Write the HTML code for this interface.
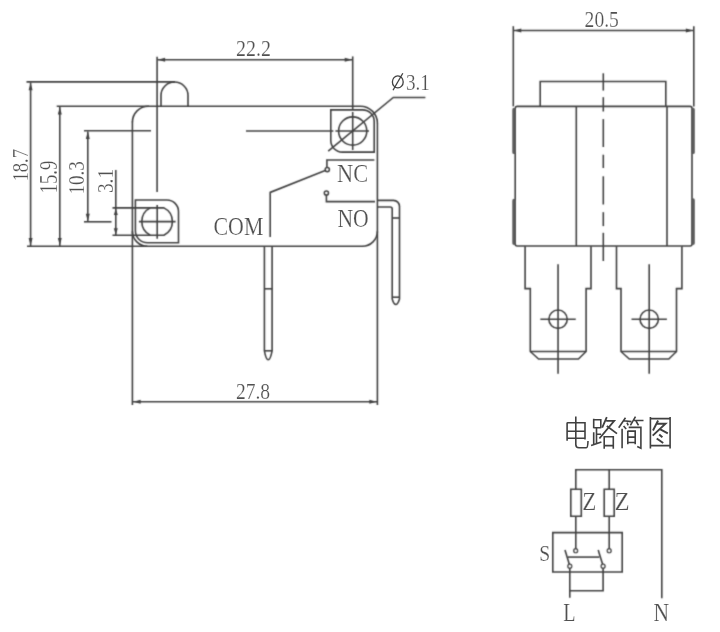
<!DOCTYPE html>
<html><head><meta charset="utf-8"><style>
html,body{margin:0;padding:0;background:#fff;width:720px;height:632px;overflow:hidden}
svg{display:block;}
text{font-family:"Liberation Serif",serif;fill:#505050;stroke:#fff;stroke-width:0.22px}
</style></head><body>
<svg width="720" height="632" viewBox="0 0 720 632" fill="none" stroke="#404040" stroke-linecap="butt">
<defs><filter id="n" x="0" y="0" width="720" height="632" filterUnits="userSpaceOnUse"><feOffset dx="0" dy="0"/></filter><filter id="b" x="0" y="0" width="720" height="632" filterUnits="userSpaceOnUse"><feConvolveMatrix order="3" kernelMatrix="1 4 1 4 16 4 1 4 1" divisor="36" edgeMode="none" preserveAlpha="false"/></filter></defs>
<rect width="720" height="632" fill="#fff" stroke="none"/>
<g filter="url(#b)">
<line x1="26.5" y1="81.9" x2="175" y2="81.9" stroke-width="1.6" />
<line x1="30.6" y1="82.5" x2="30.6" y2="246" stroke-width="1.6" />
<path d="M30.6 82.8 L28.60 90.30 L32.60 90.30Z" fill="#404040" stroke="none"/>
<path d="M30.6 245.6 L28.60 238.10 L32.60 238.10Z" fill="#404040" stroke="none"/>
<line x1="56.7" y1="106.2" x2="149" y2="106.2" stroke-width="1.6" />
<line x1="59.8" y1="107" x2="59.8" y2="246" stroke-width="1.6" />
<path d="M59.8 107 L57.80 114.50 L61.80 114.50Z" fill="#404040" stroke="none"/>
<path d="M59.8 245.6 L57.80 238.10 L61.80 238.10Z" fill="#404040" stroke="none"/>
<line x1="84" y1="130.8" x2="151" y2="130.8" stroke-width="1.6" />
<line x1="87.8" y1="131.5" x2="87.8" y2="221.5" stroke-width="1.6" />
<path d="M87.8 131.5 L85.80 139.00 L89.80 139.00Z" fill="#404040" stroke="none"/>
<path d="M87.8 221.2 L85.80 213.70 L89.80 213.70Z" fill="#404040" stroke="none"/>
<line x1="84" y1="221.8" x2="111.5" y2="221.8" stroke-width="1.6" />
<line x1="115.8" y1="170" x2="115.8" y2="235.3" stroke-width="1.6" />
<path d="M115.8 208.6 L113.80 215.10 L117.80 215.10Z" fill="#404040" stroke="none"/>
<path d="M115.8 234.8 L113.80 228.30 L117.80 228.30Z" fill="#404040" stroke="none"/>
<line x1="157.5" y1="59.7" x2="352.2" y2="59.7" stroke-width="1.6" />
<path d="M157.6 59.7 L165.10 57.70 L165.10 61.70Z" fill="#404040" stroke="none"/>
<path d="M352.2 59.7 L344.70 57.70 L344.70 61.70Z" fill="#404040" stroke="none"/>
<line x1="157.1" y1="56.7" x2="157.1" y2="192" stroke-width="1.6" />
<line x1="157.2" y1="205" x2="157.2" y2="238.8" stroke-width="1.6" />
<line x1="352.7" y1="56.4" x2="352.7" y2="109" stroke-width="1.6" />
<line x1="352.7" y1="112" x2="352.7" y2="150" stroke-width="1.6" />
<line x1="133" y1="401.7" x2="377" y2="401.7" stroke-width="1.6" />
<path d="M133.2 401.7 L140.70 399.70 L140.70 403.70Z" fill="#404040" stroke="none"/>
<path d="M376.8 401.7 L369.30 399.70 L369.30 403.70Z" fill="#404040" stroke="none"/>
<line x1="132.4" y1="121.5" x2="132.4" y2="405" stroke-width="1.6" />
<line x1="377.4" y1="123" x2="377.4" y2="405" stroke-width="1.6" />
<path d="M132.4 122.2 A16 16 0 0 1 148.4 106.2 H360.4 A17 17 0 0 1 377.4 123.2" stroke-width="1.6" />
<path d="M377.4 231.3 A15 15 0 0 1 362.4 246.3 H27" stroke-width="1.6" />
<path d="M161 106.2 V95.5 A13.5 13.5 0 0 1 188 95.5 V106.2" stroke-width="1.6" />
<path d="M330.8 109.9 H362.7 A11.5 11.5 0 0 1 374.2 121.4 V152.1 H342.3 A11.5 11.5 0 0 1 330.8 140.6 Z" stroke-width="1.6" />
<circle cx="352.7" cy="131" r="14.1" stroke-width="1.6" />
<line x1="246" y1="131" x2="333.4" y2="131" stroke-width="1.6" />
<line x1="335.4" y1="131" x2="369" y2="131" stroke-width="1.6" />
<path d="M328.2 151.1 L393.3 97.5 H425.4" stroke-width="1.6" />
<path d="M135.4 200 H167 A11.5 11.5 0 0 1 178.5 211.5 V242.8 H147.4 A12 12 0 0 1 135.4 230.8 Z" stroke-width="1.6" />
<path d="M132.4 231.3 A15 15 0 0 0 147.4 246.3" stroke-width="1.6" />
<path d="M112.5 207.9 H163.91 A15.3 15.3 0 0 1 163.91 235.3 H112.5" stroke-width="1.6" />
<path d="M150.29 207.9 A15.3 15.3 0 0 0 150.29 235.3" stroke-width="1.6" />
<line x1="138.9" y1="221.6" x2="175.6" y2="221.6" stroke-width="1.6" />
<path d="M374.4 160 H326.9 V167.4" stroke-width="1.6" />
<circle cx="327.3" cy="169.6" r="2.1" stroke-width="1.5" />
<path d="M325.2 170.6 L270.2 192.4 V237" stroke-width="1.6" />
<circle cx="326.4" cy="193" r="2.1" stroke-width="1.5" />
<path d="M326.4 195.1 V201.6 H375" stroke-width="1.6" />
<path d="M377.4 200.4 H393.5 A6 6 0 0 1 399.5 206.4 V299 Q397.8 304.5 395.8 304.5 Q393.8 304.5 392.2 299 V209 A2 2 0 0 0 390.2 207 H377.4" stroke-width="1.6" />
<line x1="392.2" y1="218" x2="399.5" y2="218" stroke-width="1.6" />
<line x1="392.2" y1="297.2" x2="399.5" y2="297.2" stroke-width="1.6" />
<path d="M264.4 246.3 V350.8 Q266 359.7 268.2 359.7 Q270.4 359.7 272.1 350.8 V246.3" stroke-width="1.6" />
<line x1="264.4" y1="288.8" x2="272.1" y2="288.8" stroke-width="1.6" />
<line x1="264.4" y1="350.8" x2="272.1" y2="350.8" stroke-width="1.6" />
<line x1="513.3" y1="26.2" x2="513.3" y2="106.4" stroke-width="1.6" />
<line x1="693.8" y1="26.2" x2="693.8" y2="106.4" stroke-width="1.6" />
<line x1="513.8" y1="30.5" x2="693.3" y2="30.5" stroke-width="1.6" />
<path d="M513.8 30.5 L521.30 28.50 L521.30 32.50Z" fill="#404040" stroke="none"/>
<path d="M693.3 30.5 L685.80 28.50 L685.80 32.50Z" fill="#404040" stroke="none"/>
<path d="M540.2 106.4 V81.5 H665.8 V106.4" stroke-width="1.6" />
<path d="M517 106.4 H690 A2 2 0 0 1 692 108.4 V244 A2 2 0 0 1 690 246 H517.2 A2 2 0 0 1 515.2 244 V108.4 A2 2 0 0 1 517 106.4 Z" stroke-width="1.6" />
<line x1="576.3" y1="106.4" x2="576.3" y2="246" stroke-width="1.6" />
<line x1="667" y1="106.4" x2="667" y2="246" stroke-width="1.6" />
<path d="M514 109.5 V152.4 M514 200.5 V243.3" stroke-width="3.4" stroke-linecap="round" stroke="#5a5a5a"/>
<path d="M693.1 109.5 V152.4 M693.1 200 V243.3" stroke-width="3.4" stroke-linecap="round" stroke="#5a5a5a"/>
<line x1="603.3" y1="73.3" x2="603.3" y2="90.6" stroke-width="1.6" />
<line x1="603.3" y1="97.2" x2="603.3" y2="111.5" stroke-width="1.6" />
<line x1="603.3" y1="119.1" x2="603.3" y2="147" stroke-width="1.6" />
<line x1="603.3" y1="154.7" x2="603.3" y2="168" stroke-width="1.6" />
<line x1="603.3" y1="176.3" x2="603.3" y2="204.5" stroke-width="1.6" />
<line x1="603.3" y1="212.2" x2="603.3" y2="226.1" stroke-width="1.6" />
<line x1="603.3" y1="232.8" x2="603.3" y2="261" stroke-width="1.6" />
<path d="M525.1 246.2 V288.6 H530.3 V351.5 L538.6 359 H578.4 L586.1 351.5 V288.6 H591 V246.2" stroke-width="1.6" />
<line x1="530.3" y1="351.5" x2="586.1" y2="351.5" stroke-width="1.6" />
<line x1="558.05" y1="264.3" x2="558.05" y2="373.8" stroke-width="1.6" />
<circle cx="558.05" cy="319.2" r="9.2" stroke-width="1.6" />
<line x1="540.3499999999999" y1="319.2" x2="575.75" y2="319.2" stroke-width="1.6" />
<path d="M616.5 246.2 V288.6 H621 V351.5 L629.3 359 H668.8 L676.5 351.5 V288.6 H681.9 V246.2" stroke-width="1.6" />
<line x1="621" y1="351.5" x2="676.5" y2="351.5" stroke-width="1.6" />
<line x1="649.2" y1="264.3" x2="649.2" y2="373.8" stroke-width="1.6" />
<circle cx="649.2" cy="319.2" r="9.2" stroke-width="1.6" />
<line x1="631.5" y1="319.2" x2="666.9000000000001" y2="319.2" stroke-width="1.6" />
<path d="M575.8 489.2 V469.7 H661.8 V598.2" stroke-width="1.6" />
<line x1="609.2" y1="469.7" x2="609.2" y2="489.2" stroke-width="1.6" />
<path d="M570.8 489.2 H581.3 V516.3 H570.8 Z" stroke-width="1.6" />
<path d="M604.2 489.2 H614.2 V516.3 H604.2 Z" stroke-width="1.6" />
<line x1="575.8" y1="516.3" x2="575.8" y2="548.8" stroke-width="1.6" />
<line x1="609.2" y1="516.3" x2="609.2" y2="548.8" stroke-width="1.6" />
<path d="M552.8 532.6 H622.2 V572 H552.8 Z" stroke-width="1.6" />
<circle cx="575.7" cy="550.7" r="1.9" stroke-width="1.4" fill="#fff"/>
<circle cx="609.2" cy="550.7" r="1.9" stroke-width="1.4" fill="#fff"/>
<circle cx="569.8" cy="566.2" r="1.9" stroke-width="1.4" fill="#fff"/>
<circle cx="603.1" cy="566.2" r="1.9" stroke-width="1.4" fill="#fff"/>
<line x1="565" y1="550" x2="569.3" y2="564.3" stroke-width="1.6" />
<line x1="598.2" y1="550" x2="602.6" y2="564.3" stroke-width="1.6" />
<line x1="568" y1="557.1" x2="599.4" y2="557.1" stroke-width="1.6" />
<path d="M569.8 568.1 V597.8 M603.1 568.1 V590.7 H569.8" stroke-width="1.6" />
</g>
<g filter="url(#n)">
<text transform="translate(236.10 56.36) scale(0.871 1)" font-size="22.96">22.2</text>
<text transform="translate(235.92 398.85) scale(0.832 1)" font-size="23.53">27.8</text>
<text transform="translate(406.05 90.06) scale(0.836 1)" font-size="22.81">3.1</text>
<text transform="translate(213.52 234.94) scale(0.858 1)" font-size="25.52">COM</text>
<text transform="translate(337.03 182.05) scale(0.882 1)" font-size="25.37">NC</text>
<text transform="translate(337.45 226.84) scale(0.830 1)" font-size="26.12">NO</text>
<text transform="translate(27.75 181.47) rotate(-90) scale(0.800 1)" font-size="23.24">18.7</text>
<text transform="translate(56.74 193.39) rotate(-90) scale(0.772 1)" font-size="24.30">15.9</text>
<text transform="translate(84.35 194.61) rotate(-90) scale(0.808 1)" font-size="23.53">10.3</text>
<text transform="translate(112.65 193.07) rotate(-90) scale(0.839 1)" font-size="23.11">3.1</text>
<ellipse cx="397.8" cy="81.9" rx="5.4" ry="6" stroke-width="1.3"/>
<line x1="402.8" y1="73.3" x2="393" y2="90.3" stroke-width="1.3"/>
<text transform="translate(584.62 27.45) scale(0.843 1)" font-size="23.24">20.5</text>
<path d="M567.1 422.4 V440.8 M567.1 422.8 H585 V439.5 M567.1 431.2 H585 M567.1 438.3 H585" stroke-width="1.6" />
<path d="M575.8 416.6 V444.5 Q575.8 447.8 579 447.8 H586.3 Q587.8 447.8 588 441" stroke-width="1.6" />
<path d="M593.7 418.8 V428.2 M593.7 419.7 H600.8 V428.2 M593.7 427.7 H600.8" stroke-width="1.6" />
<path d="M596.5 427.7 V443 M596.5 434.2 H601.1 M593.7 432.2 V444.8 M591.1 445.6 L601.4 441.9" stroke-width="1.6" />
<path d="M606.8 417.1 L602.2 427.7 M606.2 420.8 H614.2 L599.4 438.5 M606.8 426 L617 433.6" stroke-width="1.8" />
<path d="M604.2 435.9 V448.7 M604.2 436.8 H613.3 V448.7 M604.2 445.6 H613.3" stroke-width="1.6" />
<path d="M625.5 417.7 L618.7 427.7 M623.6 420.8 L631.5 421.6 M627 422.6 L628.2 425.4 M623.6 426 L626.2 429" stroke-width="1.6" />
<path d="M635.5 416.6 L630.4 425.4 M634.1 420.5 H643.5 M636 421 L638.5 425.3" stroke-width="1.6" />
<path d="M622.1 428.8 V448.2 M628.7 427.4 H640.9 V448.2 L637.2 446.5" stroke-width="1.6" />
<path d="M627.8 430.8 V444.2 M627.8 431.1 H635.2 V444.2 M627.8 437.1 H635.2 M627.8 442.5 H635.2" stroke-width="1.6" />
<path d="M650.4 417.1 V448.5 M670.1 417.1 V448.5 M650.4 418.6 H670.1 M650.4 445.6 H670.1" stroke-width="1.6" />
<path d="M658.1 420.5 L653 430.5 M657 423.7 H665.5 L652.7 435.6 M660.4 429.4 L667.8 433.4" stroke-width="1.9" />
<path d="M659.2 434.5 L662.4 437.3 M656.7 438.5 L663.2 443" stroke-width="2.0" />
<text transform="translate(582.14 509.70) scale(0.925 1)" font-size="25.04">Z</text>
<text transform="translate(614.56 509.70) scale(0.989 1)" font-size="25.04">Z</text>
<text transform="translate(539.22 561.16) scale(0.838 1)" font-size="23.58">S</text>
<text transform="translate(563.19 620.60) scale(0.821 1)" font-size="24.58">L</text>
<text transform="translate(653.55 620.70) scale(0.849 1)" font-size="25.50">N</text>
</g>
</svg></body></html>
